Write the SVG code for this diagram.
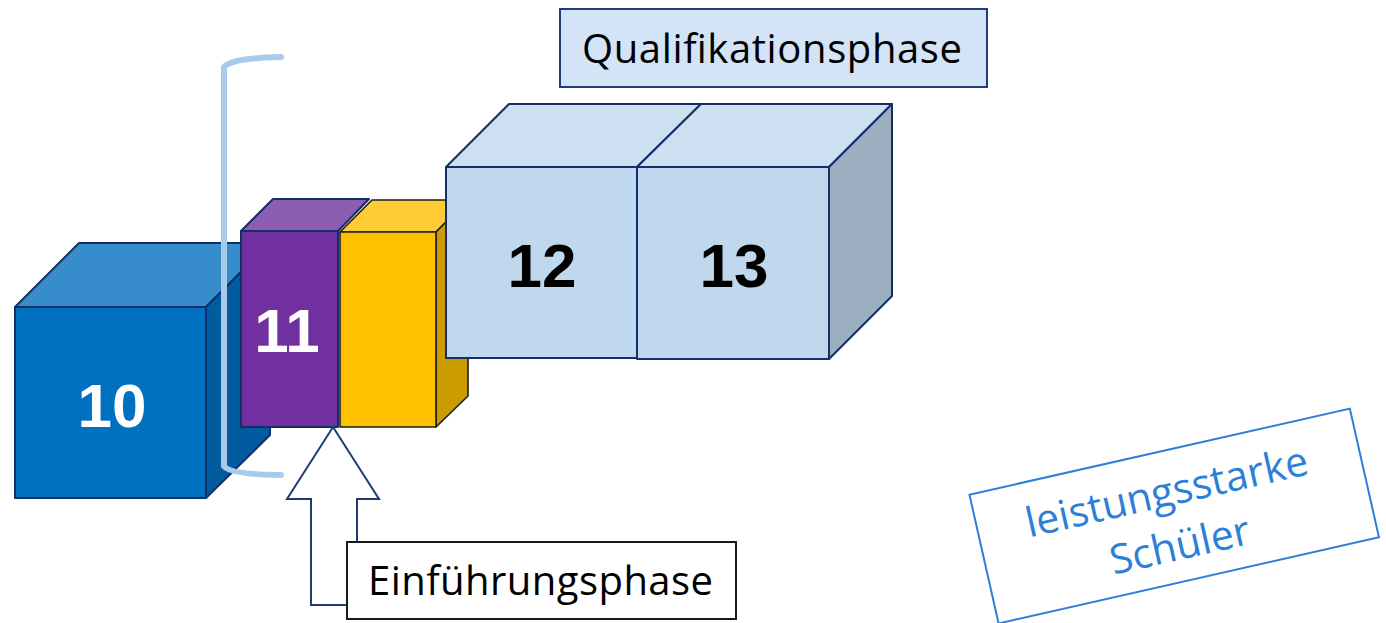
<svg xmlns="http://www.w3.org/2000/svg" width="1386" height="623" viewBox="0 0 1386 623">
<style>
.nv{stroke:#142f66;stroke-width:2;stroke-linejoin:round}
.yl{stroke:#1e1e1e;stroke-width:1.6;stroke-linejoin:round}
.num{font-family:"Liberation Sans",Arial,sans-serif;font-weight:bold;font-size:62px;text-anchor:middle}
.lbl{font-family:"Open Sans","Noto Sans",sans-serif;font-size:40px;fill:#000}
</style>
<rect width="1386" height="623" fill="#fff"/>
<g id="cube10">
<polygon class="nv" points="15,307 79,243 270,243 206,307" fill="#378dcc"/>
<polygon class="nv" points="206,307 270,243 270,435 206,498" fill="#005c9e"/>
<rect class="nv" x="15" y="307" width="191" height="191" fill="#0070c0"/>
<text class="num" x="112" y="427" fill="#fff">10</text>
</g>
<g id="bracket">
<path d="M281,57 Q232,58 224,67 L224,466 Q228,474 281,475" fill="none" stroke="#a9cbeb" stroke-width="6" stroke-linecap="round"/>
</g>
<g id="box11">
<polygon class="nv" points="241,231 273,199 369,199 338,231" fill="#8d5db1"/>
<rect class="nv" x="241" y="231" width="97" height="196" fill="#7030a0"/>
<text class="num" x="287" y="352" fill="#fff">11</text>
</g>
<g id="yellow">
<polygon class="yl" points="340,232 372,200 468,200 436,232" fill="#ffcd33"/>
<polygon class="yl" points="436,232 468,200 468,396 436,427" fill="#cc9b00"/>
<rect class="yl" x="340" y="232" width="96" height="195" fill="#ffc000"/>
</g>
<g id="cube12">
<polygon class="nv" points="446,167 509,104 701,104 637,167" fill="#cde0f1"/>
<rect class="nv" x="446" y="167" width="191" height="191" fill="#c0d8ee"/>
<text class="num" x="542" y="287" fill="#000">12</text>
</g>
<g id="cube13">
<polygon class="nv" points="637,167 701,104 892,104 829,167" fill="#cde0f1"/>
<polygon class="nv" points="829,167 892,104 892,296 829,359" fill="#9cafc1"/>
<rect class="nv" x="637" y="167" width="192" height="192" fill="#c0d8ee"/>
<text class="num" x="734" y="287" fill="#000">13</text>
</g>
<g id="qualifikationsphase">
<rect x="560" y="9" width="427" height="78" fill="#d3e4f6" stroke="#1f3f7a" stroke-width="2"/>
<text class="lbl" x="582" y="63" textLength="380" lengthAdjust="spacing">Qualifikationsphase</text>
</g>
<g id="connectors">
<polygon points="333,427 379,499 357,499 357,605 311,605 311,499 287,499" fill="#fff" stroke="#1f3b73" stroke-width="2" stroke-linejoin="miter"/>
</g>
<g id="einfuehrungsphase">
<rect x="347" y="542" width="389" height="77" fill="#fff" stroke="#1a1a1a" stroke-width="2"/>
<text class="lbl" x="368" y="595" textLength="345" lengthAdjust="spacing">Einführungsphase</text>
</g>
<g id="leistungsstarke" transform="translate(1174.2,516) rotate(-12.75)">
<rect x="-195" y="-66" width="390" height="132" fill="#fff" stroke="#2e7fd6" stroke-width="2"/>
<text font-family="Open Sans, Noto Sans, sans-serif" font-size="41" fill="#2e7fd6" text-anchor="middle"><tspan x="-2" y="-11">leistungsstarke</tspan><tspan x="-1" y="44">Schüler</tspan></text>
</g>
</svg>
